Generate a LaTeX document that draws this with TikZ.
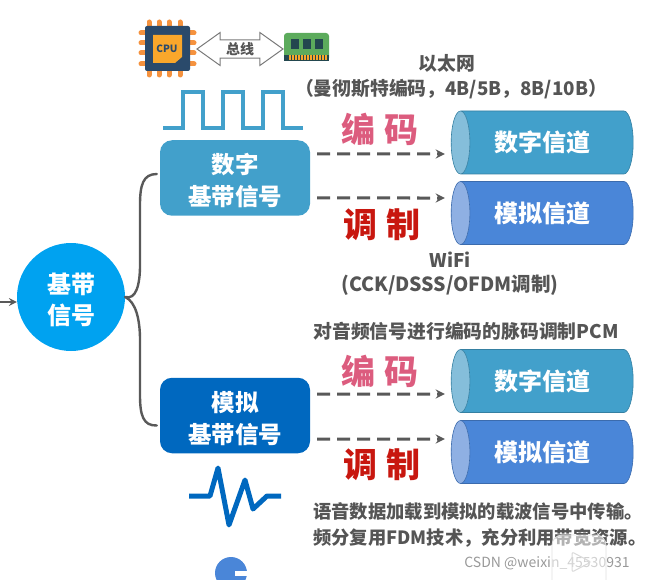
\documentclass[tikz,border=0pt]{standalone}
\usepackage{fontspec}
\setmainfont{Noto Sans CJK SC}
\usepackage{xcolor}
\usetikzlibrary{shapes.geometric,shapes.arrows}
\definecolor{notegray}{HTML}{555555}
\definecolor{lineblack}{HTML}{595959}
\definecolor{digblue}{HTML}{42A0CB}
\definecolor{digend}{HTML}{85BEDA}
\definecolor{anablue}{HTML}{4A86D8}
\definecolor{anaend}{HTML}{8FB0E3}
\definecolor{anabox}{HTML}{0068BF}
\definecolor{basecyan}{HTML}{00A2F0}
\definecolor{codepink}{HTML}{DC5C7E}
\definecolor{modred}{HTML}{C8170F}
\definecolor{pinorange}{HTML}{F5923E}
\definecolor{chipnavy}{HTML}{2A4A6B}
\definecolor{cpuyellow}{HTML}{F9A72B}
\definecolor{ramgreen}{HTML}{5CAB5C}
\definecolor{ramdark}{HTML}{23474F}
\tikzset{
	note/.style={text=notegray,font=\bfseries\fontsize{18.8}{27}\selectfont,align=center},
	bigword/.style={font=\bfseries\fontsize{34}{36}\selectfont},
	signalbox/.style={rounded corners=12pt,minimum width=150pt,minimum height=75.5pt,text=white,align=center,
			font=\bfseries\fontsize{23.5}{32}\selectfont,text height=58pt},
	channel/.style={cylinder,shape border rotate=180,shape aspect=0.8,minimum height=182pt,minimum width=63pt,
			cylinder uses custom fill,draw=#1!80!black,line width=0.6pt,text=white,inner sep=0pt,
			font=\bfseries\fontsize{24}{28}\selectfont,execute at begin node={\kern-10pt}},
	flow/.style={->,>=stealth,draw=lineblack,line width=3pt,dash pattern=on 13pt off 7pt},
	brace/.style={draw=lineblack,line width=2.4pt,line cap=round}
}
\begin{document}
\begin{tikzpicture}[x=1pt,y=-1pt]
	\useasboundingbox (0,0) rectangle (645,580);
	\clip (0,0) rectangle (645,580);

	% cpu, bus and memory
	\foreach \pos in {33,43,53,64}{
			\draw[pinorange,line width=5pt,line cap=round] (141,\pos) -- (194,\pos);
			\draw[pinorange,line width=5pt,line cap=round] (\pos+116,22) -- (\pos+116,75);
		}
	\fill[chipnavy,rounded corners=2pt] (145,26) rectangle (190,71);
	\fill[cpuyellow] (153,35) -- (182,35) -- (182,57) -- (175,63) -- (153,63) -- cycle;
	\node[text=chipnavy,font=\bfseries\fontsize{10}{12}\selectfont,inner sep=0pt] (cpu) at (167,49) {CPU};
	\node[double arrow,draw=lineblack!80,line width=1pt,fill=white,text=notegray,minimum height=86pt,minimum width=33pt,
		double arrow tip angle=71,double arrow head indent=0pt,double arrow head extend=7pt,inner sep=1.5pt,
		font=\bfseries\fontsize{14}{16}\selectfont] (bus) at (240,49) {总线};
	\fill[ramgreen,rounded corners=3pt] (284,33) rectangle (329,61);
	\foreach \pos in {291,303,315}{
			\fill[ramdark] (\pos,39) rectangle (\pos+8,49);
		}
	\fill[ramdark] (284,55) rectangle (329,61);
	\foreach \pos in {289,292,...,325}{
			\fill[cpuyellow] (\pos,55) rectangle (\pos+1.6,60);
		}

	% signal shapes
	\draw[digblue,line width=4pt] (163,128) -- (183,128) -- (183,92) -- (203,92) -- (203,128) -- (223,128) -- (223,92)
	-- (243,92) -- (243,128) -- (263,128) -- (263,92) -- (283,92) -- (283,128) -- (303,128);
	\draw[anabox,line width=5pt,line join=round] (189,496) -- (210,496) -- (218,468) -- (229,525) -- (245,480)
	-- (253,509) -- (267,496) -- (281,496);

	% base signal
	\node[circle,fill=basecyan,minimum size=108pt,inner sep=0pt,text=white,align=center,
		font=\bfseries\fontsize{24}{31}\selectfont,text height=58pt] (base) at (71,297) {基带\\信号};
	\coordinate (inlet) at (0,302);
	\draw[->,>=stealth,draw=lineblack,line width=2.4pt] (inlet) -- (base.west |- inlet);

	% signal boxes
	\node[signalbox,fill=digblue] (digbox) at (235,178) {数字\\基带信号};
	\node[signalbox,fill=anabox] (anabox) at (235,415.5) {模拟\\基带信号};
	\draw[brace] (base.east) .. controls (136,300) and (140,285) .. (140,265) -- (140,205)
	.. controls (140,185) and (143,174) .. ([shift={(-3,-4)}]digbox.west);
	\draw[brace] (base.east) .. controls (136,302) and (140,320) .. (140,340) -- (140,395)
	.. controls (140,415) and (143,426) .. ([shift={(-3,10)}]anabox.west);

	% channels
	\node[channel=digblue,cylinder body fill=digblue,cylinder end fill=digend] (digchan1) at (547,142.5) {数字信道};
	\node[channel=anablue,cylinder body fill=anablue,cylinder end fill=anaend] (anachan1) at (547,213) {模拟信道};
	\node[channel=digblue,cylinder body fill=digblue,cylinder end fill=digend] (digchan2) at (547,381) {数字信道};
	\node[channel=anablue,cylinder body fill=anablue,cylinder end fill=anaend] (anachan2) at (547,452) {模拟信道};

	% dashed arrows
	\draw[flow] ([shift={(7,-24)}]digbox.east) -- ([shift={(-6,11.5)}]digchan1.west);
	\draw[flow] ([shift={(7,20)}]digbox.east) -- ([shift={(-6,-15)}]anachan1.west);
	\draw[flow] ([shift={(7,-21.5)}]anabox.east) -- ([shift={(-6,13)}]digchan2.west);
	\draw[flow] ([shift={(7,23.5)}]anabox.east) -- ([shift={(-6,-13)}]anachan2.west);

	% words over the arrows
	\node[bigword,text=codepink] (code1) at (380,129) {编\hspace{9pt}码};
	\node[bigword,text=modred] (mod1) at (382,225) {调\hspace{9pt}制};
	\node[bigword,text=codepink] (code2) at (380,371) {编\hspace{9pt}码};
	\node[bigword,text=modred] (mod2) at (382,465) {调\hspace{9pt}制};

	% notes
	\node[note] (ether) at (447,63) {以太网};
	\node[note] (etherkind) at (451,89) {（曼彻斯特编码，4B/5B，8B/10B）};
	\node[note] (wifi) at (450,260) {WiFi};
	\node[note,font=\bfseries\fontsize{19.5}{27}\selectfont] (wifikind) at (450,285) {(CCK/DSSS/OFDM调制)};
	\node[note] (pcm) at (466,331) {对音频信号进行编码的脉码调制PCM};
	\node[note,font=\bfseries\fontsize{18.3}{26}\selectfont,anchor=north west,align=left,inner sep=0pt] (voice) at (313,502.5) {语音数据加载到模拟的载波信号中传输。\\频分复用FDM技术，充分利用带宽资源。};
	\node[text=notegray!60,font=\fontsize{14}{16}\selectfont,inner sep=0pt] (mark) at (547,563) {CSDN @weixin\_45530931};

	% faint player button over the text
	\fill[white,opacity=0.55,rounded corners=10pt] (552,535) rectangle (606,590);
	\draw[gray!25,line width=0.8pt,rounded corners=10pt] (552,535) rectangle (606,590);
	\draw[gray!30,line width=1pt,rounded corners=2pt] (572,552) -- (591,562) -- (572,572) -- cycle;

	% next item, cut by the edge
	\fill[anablue] (231,573) circle (16);
	\fill[white] (235,571) rectangle (250,576);
\end{tikzpicture}
\end{document}
